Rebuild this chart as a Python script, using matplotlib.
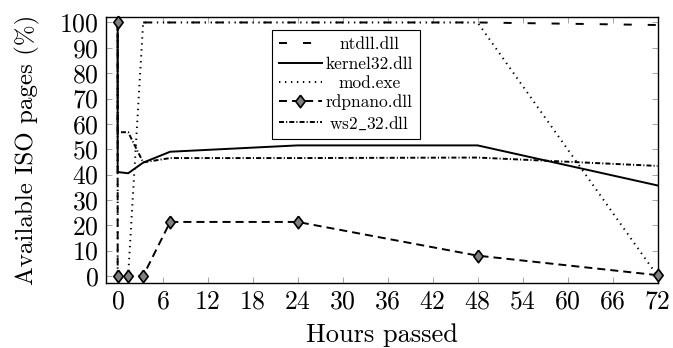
import matplotlib
matplotlib.use("Agg")
import matplotlib.pyplot as plt
from matplotlib.transforms import Affine2D
import numpy as np

plt.rcParams['font.family'] = ['cmr10', 'DejaVu Serif']
plt.rcParams['mathtext.fontset'] = 'cm'
plt.rcParams['axes.formatter.use_mathtext'] = True
plt.rcParams['lines.scale_dashes'] = False

hours = [0, 0, 1.4, 3.4, 7, 24, 48, 72]
ntdll = [np.nan, np.nan, np.nan, 100, 100, 100, 100, 99]
kernel32 = [100, 41, 40.5, 44.7, 49, 51.5, 51.5, 35.7]
mod_exe = [100, 0, 0, 100, 100, 100, 100, 0]
rdpnano = [100, 0, 0, 0, 21.3, 21.3, 8, 0.3]
ws2_32 = [100, 56.7, 56.7, 44.8, 46.5, 46.5, 46.7, 43.4]

labels = ['ntdll.dll', 'kernel32.dll', 'mod.exe', 'rdpnano.dll', r'ws2$\_$32.dll']
xticks = list(range(0, 73, 6))
yticks = list(range(0, 101, 10))

fig = plt.figure(figsize=(6.73, 3.48), dpi=100)
ax = fig.add_axes([0.157, 0.186, 0.820, 0.764])

lw = 1.4
diamond = [(0, 1), (0.75, 0), (0, -1), (-0.75, 0), (0, 1)]
ax.plot(hours, ntdll, color='black', lw=lw, linestyle=(0, (5.8, 11.5)), label=labels[0])
ax.plot(hours, kernel32, color='black', lw=lw, linestyle='-', label=labels[1])
ax.plot(hours, mod_exe, color='black', lw=lw, linestyle=(0, (1, 3.3)), label=labels[2])
ax.plot(hours, rdpnano, color='black', lw=lw, linestyle=(0, (5.8, 3.6)), marker=diamond,
        markersize=9, markerfacecolor='#808080', markeredgecolor='black',
        markeredgewidth=1.2, label=labels[3], clip_on=False, zorder=5)
ax.plot(hours, ws2_32, color='black', lw=lw, linestyle=(0, (3.6, 1.5, 0.8, 1.5)), label=labels[4])

ax.set_xlim(-1.6, 72)
ax.set_ylim(-2.9, 102)
ax.set_xticks(xticks)
ax.set_yticks(yticks)
ax.tick_params(direction='in', length=4, width=0.6, color='#999999',
               labelsize=18.5, top=True, right=True, pad=5)
for s in ax.spines.values():
    s.set_linewidth(1.0)

ax.set_xlabel('Hours passed', fontsize=19, labelpad=6.5)
ax.set_ylabel('Available ISO pages (%)', fontsize=18, labelpad=14)

leg = ax.legend(loc='upper left', bbox_to_anchor=(0.301, 0.952), fontsize=12.5,
                frameon=True, fancybox=False, edgecolor='black', framealpha=1,
                handlelength=2.5, borderpad=0.4, labelspacing=0.22, handletextpad=0.2,
                borderaxespad=0)
leg.get_frame().set_linewidth(0.8)

fig.canvas.draw()
r = fig.canvas.get_renderer()
ws = [t.get_window_extent(r).width for t in leg.texts]
m = max(ws)
for t, w in zip(leg.texts, ws):
    t.set_transform(t.get_transform() + Affine2D().translate((m - w) / 2, 0))

fig.savefig('out.png', dpi=100)
